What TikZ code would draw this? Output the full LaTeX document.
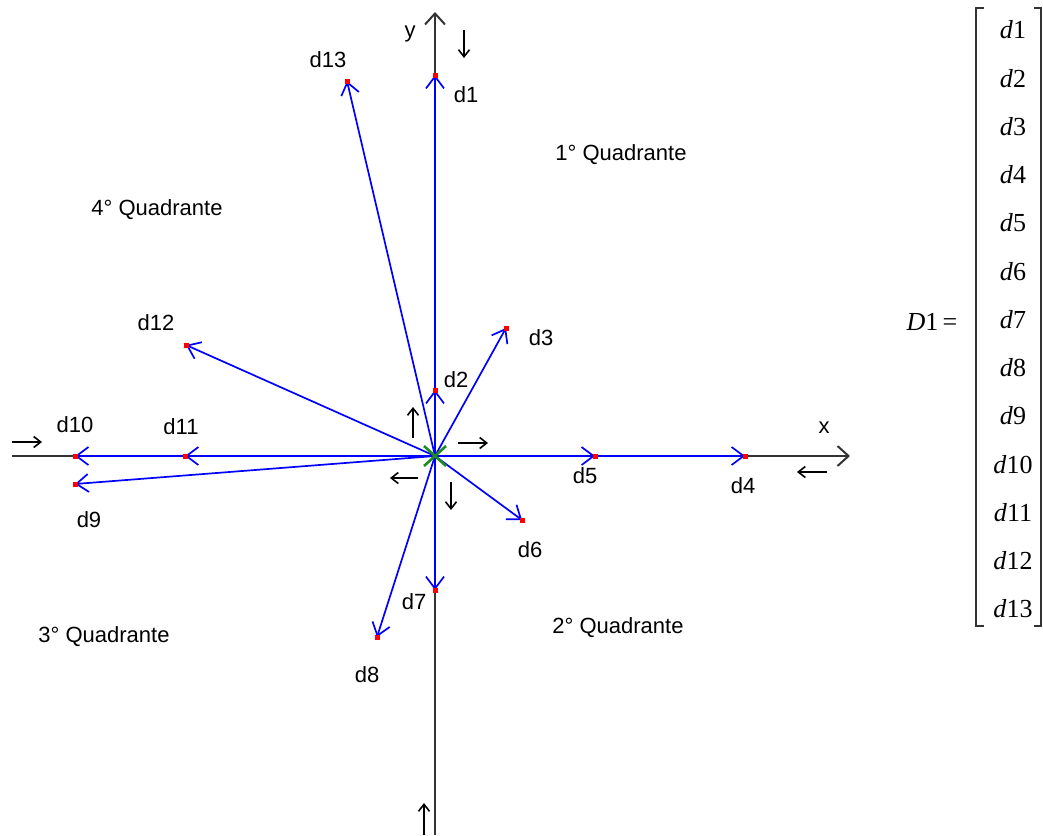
\documentclass[tikz,border=0pt]{standalone}
\usepackage{fontspec}
\setmainfont{Liberation Sans}
\newfontfamily\matfont{Liberation Serif}
\usetikzlibrary{arrows.meta}
\definecolor{vecblue}{HTML}{0000FF}
\definecolor{axisink}{HTML}{333333}
\definecolor{markgreen}{HTML}{1E8C1E}

\begin{document}
\begin{tikzpicture}[x=1pt, y=-1pt,
  axis/.style={axisink, line width=2pt, -{Straight Barb[length=11pt, width=20pt]}},
  vec/.style={vecblue, line width=1.7pt, -{Straight Barb[length=12pt, width=18pt]}},
  hint/.style={black, line width=1.6pt, -{Straight Barb[length=7pt, width=11pt]}},
  lbl/.style={font=\fontsize{22}{25}\selectfont, inner sep=0pt},
  ent/.style={font=\fontsize{26}{30}\matfont, inner sep=0pt}]
  \useasboundingbox (0,0) rectangle (1043,835);

  \coordinate (o) at (435,456);
  \coordinate (xend) at (850,456);
  \coordinate (xbeg) at (12,456);
  \coordinate (yend) at (435,12);
  \coordinate (ybeg) at (435,835);
  \draw[axis] (xbeg) -- (xend);
  \draw[axis] (ybeg) -- (yend);

  \coordinate (p1) at (435,75);
  \coordinate (p2) at (435,390);
  \coordinate (p3) at (506,328);
  \coordinate (p4) at (745,456);
  \coordinate (p5) at (595,456);
  \coordinate (p6) at (522,520);
  \coordinate (p7) at (435,590);
  \coordinate (p8) at (377,637);
  \coordinate (p9) at (75,484);
  \coordinate (p10) at (75,456);
  \coordinate (p11) at (185,456);
  \coordinate (p12) at (186,345);
  \coordinate (p13) at (347,81);
  \foreach \i in {1,...,13}
    \draw[vec] (o) -- (p\i);
  \foreach \i in {1,...,13}
    \fill[red] (p\i) +(-2.5,-2.5) rectangle +(2.5,2.5);

  \draw[markgreen, line width=2.6pt] (o) +(-11,-10) -- +(11,10) (o) +(11,-10) -- +(-11,10);

  \draw[hint] (464,30) -- ++(0,28);
  \draw[hint] (424,835) -- ++(0,-32);
  \draw[hint] (12,442) -- ++(30,0);
  \draw[hint] (827,472) -- ++(-30,0);
  \draw[hint] (413,438) -- ++(0,-31);
  \draw[hint] (458,443) -- ++(30,0);
  \draw[hint] (418,478) -- ++(-28,0);
  \draw[hint] (451,482) -- ++(0,28);

  \node[lbl] (l1) at (466,95) {d1};
  \node[lbl] (l2) at (456,380) {d2};
  \node[lbl] (l3) at (541,338) {d3};
  \node[lbl] (l4) at (743,486) {d4};
  \node[lbl] (l5) at (585,476) {d5};
  \node[lbl] (l6) at (530,550) {d6};
  \node[lbl] (l7) at (414,602) {d7};
  \node[lbl] (l8) at (367,675) {d8};
  \node[lbl] (l9) at (89,520) {d9};
  \node[lbl] (l10) at (75,425) {d10};
  \node[lbl] (l11) at (181,427) {d11};
  \node[lbl] (l12) at (156,323) {d12};
  \node[lbl] (l13) at (328,60) {d13};
  \node[lbl] (lx) at (824,428) {x};
  \node[lbl] (ly) at (410,34) {y};
  \node[lbl] (q1) at (621,155) {1° Quadrante};
  \node[lbl] (q2) at (618,628) {2° Quadrante};
  \node[lbl] (q3) at (104,637) {3° Quadrante};
  \node[lbl] (q4) at (157,210) {4° Quadrante};

  \node[ent] (dname) at (932,322) {\textit{D}1\,=};
  \foreach \i in {1,...,13}
    \node[ent] (m\i) at (1013,{30+48.25*(\i-1)}) {\textit{d}\i};
  \draw[axisink, line width=1.2pt] (984,8) -- (976,8) -- (976,626) -- (984,626);
  \draw[axisink, line width=1.2pt] (1034,8) -- (1041,8) -- (1041,626) -- (1034,626);
\end{tikzpicture}
\end{document}
